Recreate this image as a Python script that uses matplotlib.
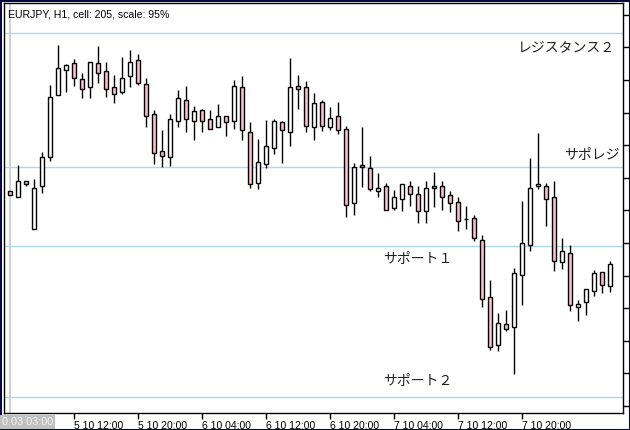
import matplotlib
matplotlib.use("Agg")
import matplotlib.pyplot as plt
from matplotlib.patches import Rectangle
import numpy as np

# ---- data (EURJPY H1) ----
opens = [132.09, 132.03, 132.19, 131.71, 132.14, 132.43, 133.05, 133.30, 133.37, 133.21,
         133.13, 133.37, 133.29, 133.13, 133.08, 133.24, 133.40, 133.16, 132.86, 132.49,
         132.43, 132.79, 133.00, 132.79, 132.90, 132.81, 132.73, 132.84, 132.79, 133.13,
         132.68, 132.17, 132.36, 132.52, 132.78, 132.68, 133.14, 133.13, 132.73, 132.98,
         132.73, 132.84, 132.71, 131.97, 132.35, 132.32, 132.09, 132.14, 131.92, 132.01,
         132.14, 132.06, 131.89, 132.14, 132.14, 132.05, 131.98, 131.81, 131.82, 131.60,
         131.03, 130.55, 130.76, 130.73, 131.25, 131.55, 132.14, 132.14, 132.03, 131.38,
         131.47, 130.93, 130.98, 131.09, 131.28, 131.14]
highs = [132.09, 132.35, 132.19, 132.21, 132.48, 133.15, 133.55, 133.36, 133.41, 133.27,
         133.38, 133.54, 133.38, 133.25, 133.43, 133.50, 133.46, 133.22, 132.90, 132.70,
         132.86, 133.10, 133.14, 132.94, 132.91, 132.90, 132.96, 132.84, 133.20, 133.24,
         132.78, 132.61, 132.80, 132.81, 132.79, 133.42, 133.25, 133.19, 133.07, 133.00,
         132.93, 132.98, 132.74, 132.37, 132.73, 132.44, 132.27, 132.17, 132.10, 132.16,
         132.19, 132.14, 132.19, 132.28, 132.19, 132.09, 132.03, 131.94, 131.85, 131.65,
         131.20, 130.87, 130.90, 131.32, 131.99, 132.42, 132.67, 132.17, 132.19, 131.62,
         131.55, 131.00, 131.11, 131.30, 131.28, 131.39]
lows = [132.05, 132.03, 132.14, 131.71, 132.07, 132.39, 133.05, 133.08, 133.14, 133.02,
        133.02, 133.17, 133.03, 132.97, 133.06, 133.13, 133.15, 132.73, 132.36, 132.33,
        132.34, 132.73, 132.68, 132.60, 132.68, 132.71, 132.73, 132.64, 132.71, 132.60,
        132.12, 132.11, 132.32, 132.46, 132.37, 132.54, 132.91, 132.68, 132.60, 132.69,
        132.70, 132.66, 131.83, 131.85, 132.13, 132.09, 132.03, 131.90, 131.90, 131.89,
        131.94, 131.77, 131.77, 131.93, 131.90, 131.88, 131.69, 131.71, 131.59, 130.93,
        130.50, 130.49, 130.69, 130.26, 130.95, 131.49, 132.11, 131.74, 131.29, 131.31,
        130.89, 130.79, 130.85, 131.04, 131.07, 131.08]
closes = [132.05, 132.19, 132.16, 132.12, 132.43, 133.03, 133.32, 133.35, 133.22, 133.11,
          133.38, 133.27, 133.11, 133.06, 133.22, 133.38, 133.17, 132.84, 132.47, 132.44,
          132.81, 133.02, 132.81, 132.89, 132.79, 132.71, 132.84, 132.78, 133.14, 132.70,
          132.16, 132.38, 132.54, 132.79, 132.70, 133.13, 133.11, 132.74, 132.97, 132.74,
          132.82, 132.70, 131.95, 132.33, 132.33, 132.11, 132.12, 131.90, 132.03, 132.16,
          132.06, 131.89, 132.12, 132.12, 132.03, 131.97, 131.79, 131.81, 131.62, 131.01,
          130.53, 130.77, 130.71, 131.27, 131.57, 132.12, 132.16, 132.01, 131.39, 131.49,
          130.95, 130.96, 131.11, 131.27, 131.15, 131.36]

level_names = ["レジスタンス２", "サポレジ", "サポート１", "サポート２"]
level_values = [133.67, 132.33, 131.54, 130.03]

tick_positions = [8, 16, 24, 32, 40, 48, 56, 64]
tick_labels = ["5 10 12:00", "5 10 20:00", "6 10 04:00", "6 10 12:00",
               "6 10 20:00", "7 10 04:00", "7 10 12:00", "7 10 20:00"]
first_label = "0.03 03:00"
title = "EURJPY, H1, cell: 205, scale: 95%"

# ---- figure ----
W, H = 630, 430
fig = plt.figure(figsize=(W / 100, H / 100), dpi=100)
fig.patch.set_facecolor("white")
ax = fig.add_axes([4 / W, 17 / H, 619 / W, 410 / H])
ax.set_facecolor("white")

n = len(opens)
ax.set_xlim(-0.75, 76.625)
ax.set_ylim(129.87, 133.97)

# crosshair-like gray vertical line at first bar
ax.axvline(0, color="#c8c8c8", lw=1.2, zorder=1)

# level lines
for v in level_values:
    ax.axhline(v, color="#add8e6", lw=1.0, zorder=1)

# candles
bw = 0.52
for i in range(n):
    o, h, l, c = opens[i], highs[i], lows[i], closes[i]
    ax.vlines(i, l, h, color="black", lw=1.0, zorder=2)
    bull = c >= o
    fc = "white" if bull else "#ffc0cb"
    ax.add_patch(Rectangle((i - bw / 2, min(o, c)), bw, abs(c - o),
                           facecolor=fc, edgecolor="black", lw=1.0, zorder=3))

# level labels
jp = ["Noto Sans CJK JP", "DejaVu Sans"]
ax.text(75.6, 133.53, level_names[0], ha="right", va="center", fontsize=10,
        family=jp, color="#222222", zorder=4)
ax.text(76.25, 132.45, level_names[1], ha="right", va="center", fontsize=10,
        family=jp, color="#222222", zorder=4)
ax.text(46.6, 131.41, level_names[2], ha="left", va="center", fontsize=10,
        family=jp, color="#222222", zorder=4)
ax.text(46.6, 130.19, level_names[3], ha="left", va="center", fontsize=10,
        family=jp, color="#222222", zorder=4)

# title
ax.text(0.006, 0.971, title, transform=ax.transAxes, ha="left",
        va="center", fontsize=7.6, family=["Liberation Sans", "DejaVu Sans"],
        color="black")

# axes styling
for s in ax.spines.values():
    s.set_color("black")
    s.set_linewidth(1.0)

narrow = ["Liberation Sans Narrow", "Liberation Sans"]
ax.set_xticks(tick_positions)
ax.set_xticklabels(tick_labels, fontsize=7.5, family=narrow, ha="left")
ax.tick_params(axis="x", direction="out", length=4, width=1, pad=2,
               color="black", labelcolor="black")
for lab in ax.get_xticklabels():
    lab.set_horizontalalignment("left")

ax.yaxis.tick_right()
ax.set_yticks(np.arange(129.94, 133.95, 0.326))
ax.tick_params(axis="y", direction="out", length=4, width=1,
               labelright=False, labelleft=False, color="black")

# first (highlighted) time label
fig.text(1.5 / W, 1 - 422 / H, first_label, ha="left", va="center", fontsize=7.8,
         family=narrow, color="#f4f4f4",
         bbox=dict(boxstyle="square,pad=0.2", facecolor="#c0c0c0",
                   edgecolor="none"))

# outer border
fig.add_artist(Rectangle((0.5 / W, 0.5 / H), 1 - 1.0 / W, 1 - 1.0 / H,
                         transform=fig.transFigure, fill=False,
                         edgecolor="#0a0a3c", lw=1.5))

fig.savefig("out.png", dpi=100)
